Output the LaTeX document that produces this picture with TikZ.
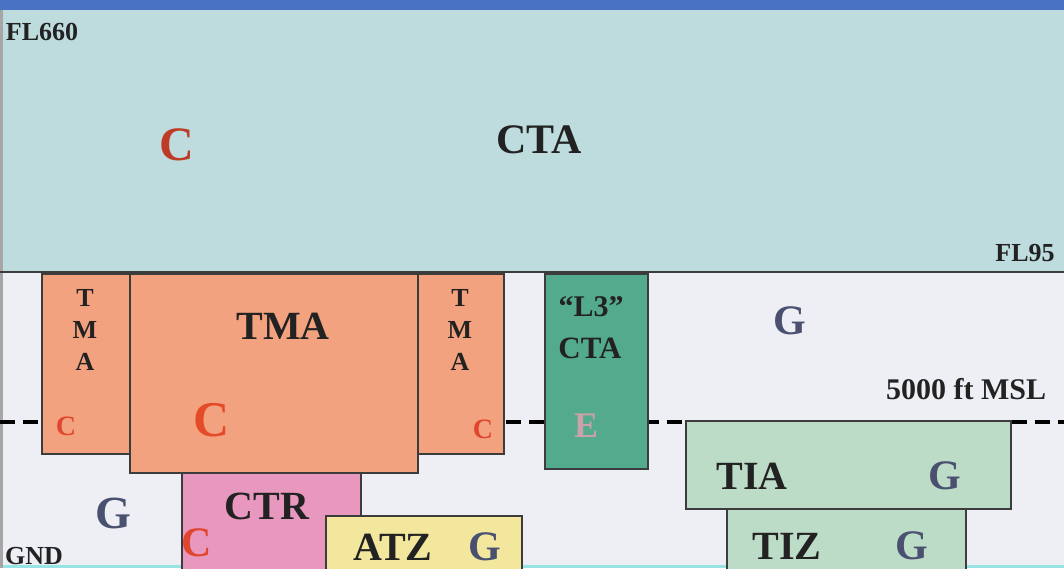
\documentclass[tikz,border=0pt]{standalone}
\usepackage{fontspec}
\setmainfont{Liberation Serif}
\begin{document}
\begin{tikzpicture}[x=1pt,y=-1pt,
  zone/.style={draw=boxline,line width=2pt,anchor=north west,inner sep=0pt},
  lbl/.style={font=\bfseries\fontsize{40}{40}\selectfont,text=txtdark,inner sep=0pt},
  gl/.style={font=\bfseries\fontsize{42}{42}\selectfont,text=gcol,inner sep=0pt},
  cl/.style={font=\bfseries\fontsize{46}{46}\selectfont,text=ccol,inner sep=0pt},
  lev/.style={font=\bfseries\fontsize{26}{26}\selectfont,text=txtdark,inner sep=0pt}]
\definecolor{topbar}{HTML}{4A72C2}
\definecolor{sky}{HTML}{BEDCDE}
\definecolor{ground}{HTML}{EEEFF4}
\definecolor{boxline}{HTML}{3C3C3C}
\definecolor{tmacol}{HTML}{F2A27E}
\definecolor{ctrcol}{HTML}{E898BE}
\definecolor{atzcol}{HTML}{F3E79E}
\definecolor{lthree}{HTML}{54AA8C}
\definecolor{tiacol}{HTML}{BDDCC7}
\definecolor{txtdark}{HTML}{222222}
\definecolor{gcol}{HTML}{4A5070}
\definecolor{ccol}{HTML}{E0452E}
\definecolor{ecol}{HTML}{C9A2AA}
\useasboundingbox (0,0) rectangle (1064,568);
% backgrounds
\fill[ground] (0,272) rectangle (1064,568);
\fill[sky] (0,10) rectangle (1064,272);
\fill[topbar] (0,0) rectangle (1064,10);
\fill[sky!80!cyan] (0,565) rectangle (1064,568);
\fill[gray!70] (0,10) rectangle (3,568);
% level boundary
\coordinate (fl95w) at (0,272);
\coordinate (fl95e) at (1064,272);
\draw[boxline,line width=2pt] (fl95w) -- (fl95e);
\coordinate (mslw) at (0,422);
\coordinate (msle) at (1064,422);
\draw[black,line width=4pt,dash pattern=on 15pt off 8pt] (mslw) -- (msle);
% zones
\node[zone,fill=tmacol,minimum width=88pt,minimum height=180pt] (tmal) at (41,273) {};
\node[zone,fill=tmacol,minimum width=86pt,minimum height=180pt] (tmar) at (417,273) {};
\node[zone,fill=tmacol,minimum width=288pt,minimum height=199pt] (tma) at (129,273) {};
\node[zone,fill=ctrcol,minimum width=179pt,minimum height=100pt] (ctr) at (181,472) {};
\node[zone,fill=atzcol,minimum width=196pt,minimum height=60pt] (atz) at (325,515) {};
\node[zone,fill=lthree,minimum width=103pt,minimum height=195pt] (lth) at (544,273) {};
\node[zone,fill=tiacol,minimum width=239pt,minimum height=65pt] (tiz) at (726,508) {};
\node[zone,fill=tiacol,minimum width=325pt,minimum height=88pt] (tia) at (685,420) {};
% texts upper
\node[lev,anchor=center] (fl660) at (42,32) {FL660};
\node[lev,anchor=center] (fl95) at (1025,253) {FL95};
\node[lev,font=\bfseries\fontsize{30}{30}\selectfont,anchor=center] (msl) at (966,389) {5000 ft MSL};
\node[lev,anchor=center] (gnd) at (34,556) {GND};
\node[cl,font=\bfseries\fontsize{48}{48}\selectfont,text=ccol!85!black] (ctop) at (177,145) {C};
\node[lbl,font=\bfseries\fontsize{42}{42}\selectfont] (cta) at (539,140) {CTA};
% TMA texts
\node[lbl,font=\bfseries\fontsize{26}{32}\selectfont,align=center] (tmaltxt) at (85,330) {T\\M\\A};
\node[lbl,font=\bfseries\fontsize{26}{32}\selectfont,align=center] (tmartxt) at (460,330) {T\\M\\A};
\node[lbl] (tmatxt) at (283,326) {TMA};
\node[cl,font=\bfseries\fontsize{28}{28}\selectfont] (cl1) at (66,426) {C};
\node[cl,font=\bfseries\fontsize{28}{28}\selectfont] (cl2) at (483,429) {C};
\node[cl,font=\bfseries\fontsize{50}{50}\selectfont,text=ccol!90!orange] (cbig) at (212,420) {C};
% CTR / ATZ
\node[lbl] (ctrtxt) at (267,506) {CTR};
\node[cl,font=\bfseries\fontsize{42}{42}\selectfont] (cctr) at (197,543) {C};
\node[lbl] (atztxt) at (393,547) {ATZ};
\node[gl] (gatz) at (485,547) {G};
\node[gl,font=\bfseries\fontsize{46}{46}\selectfont] (gleft) at (113,513) {G};
% L3 CTA
\node[lbl,font=\bfseries\fontsize{30}{30}\selectfont] (l3) at (591,307) {``L3''};
\node[lbl,font=\bfseries\fontsize{31}{31}\selectfont] (l3cta) at (590,348) {CTA};
\node[lbl,font=\bfseries\fontsize{36}{36}\selectfont,text=ecol] (el3) at (586,426) {E};
% G upper, TIA, TIZ
\node[gl] (gup) at (790,321) {G};
\node[lbl] (tiatxt) at (752,476) {TIA};
\node[gl] (gtia) at (945,476) {G};
\node[lbl] (tiztxt) at (787,546) {TIZ};
\node[gl] (gtiz) at (912,546) {G};
\end{tikzpicture}
\end{document}
